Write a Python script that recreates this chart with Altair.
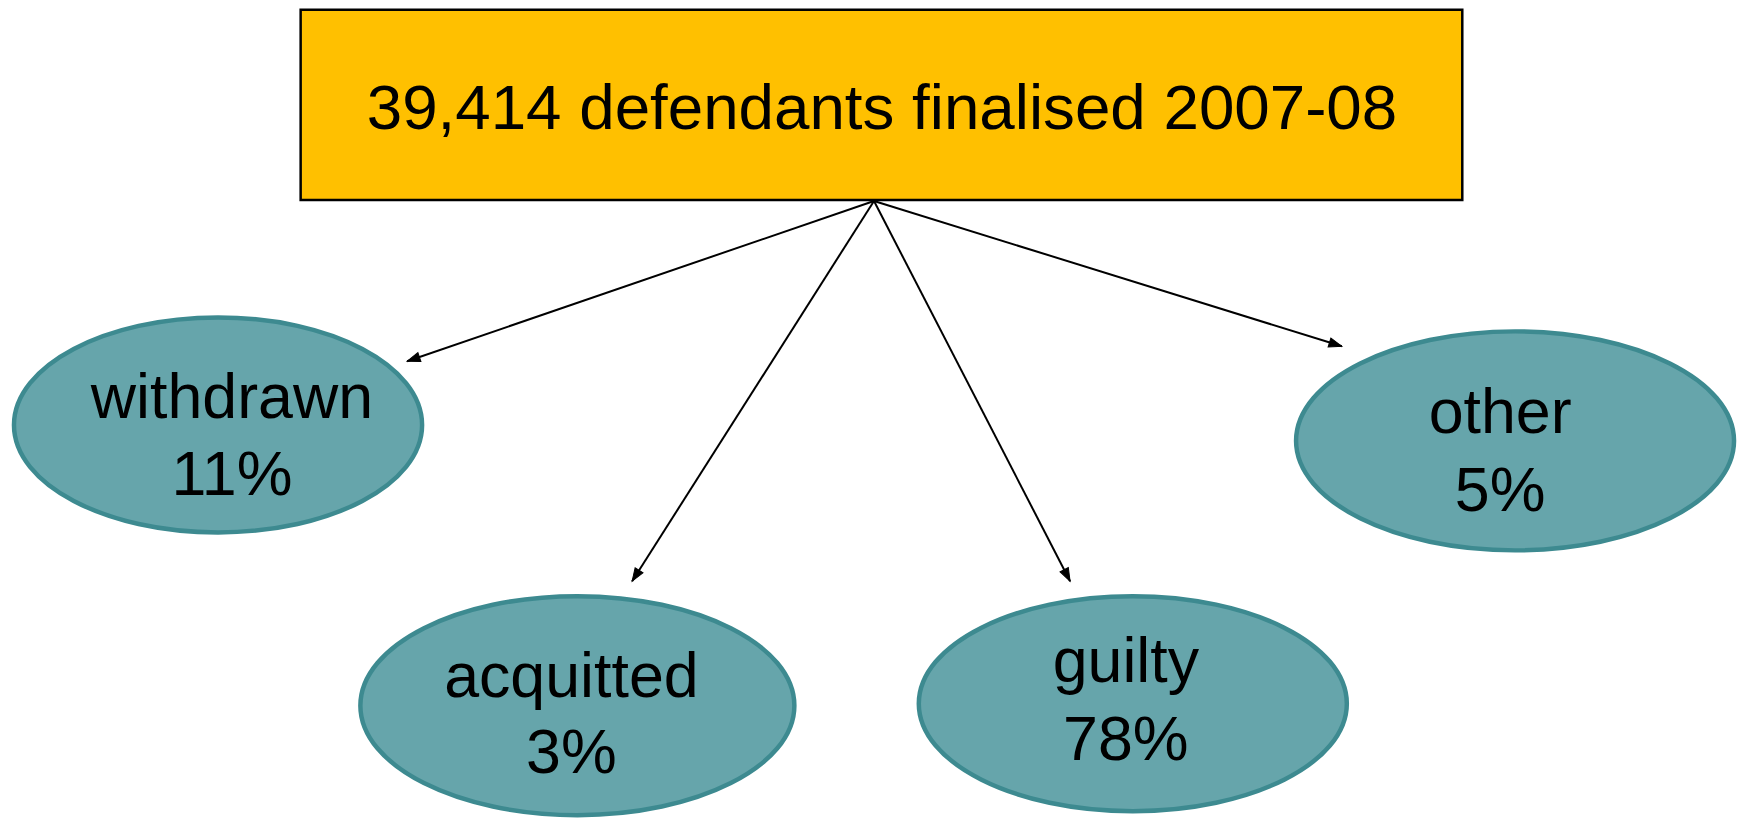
import math
import altair as alt
import pandas as pd

# ---- content ----
outcomes = ["withdrawn", "acquitted", "guilty", "other"]
shares = [11, 3, 78, 5]
total_defendants = "39,414"
period = "2007-08"

# ---- layout (page pixels) ----
box_x, box_x2, box_y, box_y2 = 302, 1469, 8, 199
origin_x, origin_y = 878, 200
ell_cx = [219, 580, 1138, 1522]
ell_cy = [425, 707, 705, 441]
ell_rx = [205, 218, 215, 220]
ell_ry = [108, 110, 108, 110]
tip_x = [409, 635, 1075, 1348]
tip_y = [361, 582, 582, 346]
label_x = [233, 574, 1131, 1507]
label_y1 = [418, 698, 683, 433]
label_y2 = [495, 775, 762, 511]

W, H = 1742, 810
xs = alt.Scale(domain=[8, 8 + W])
ys = alt.Scale(domain=[8, 8 + H], reverse=True)

FONT = "Liberation Sans"

# box
box_df = pd.DataFrame({"x": [box_x], "x2": [box_x2], "y": [box_y], "y2": [box_y2],
                       "t": [f"{total_defendants} defendants finalised {period}"],
                       "tx": [(box_x + box_x2) / 2 + 0.5], "ty": [128]})
box = alt.Chart(box_df).mark_rect(fill="#FFC000", stroke="#000000", strokeWidth=2.5).encode(
    x=alt.X("x:Q", scale=xs, axis=None), x2="x2:Q",
    y=alt.Y("y:Q", scale=ys, axis=None), y2="y2:Q")
box_text = alt.Chart(box_df).mark_text(font=FONT, fontSize=64, color="#000000",
                                       align="center", baseline="alphabetic").encode(
    x=alt.X("tx:Q", scale=xs, axis=None), y=alt.Y("ty:Q", scale=ys, axis=None), text="t:N")

# arrows
arr_rows = []
for i, o in enumerate(outcomes):
    dx = tip_x[i] - origin_x
    dy = tip_y[i] - origin_y
    ang = math.degrees(math.atan2(dx, -dy)) % 360
    arr_rows.append({"o": o, "x": origin_x, "y": origin_y, "x2": tip_x[i], "y2": tip_y[i],
                     "ang": ang})
arr_df = pd.DataFrame(arr_rows)
lines = alt.Chart(arr_df).mark_rule(color="#000000", strokeWidth=2).encode(
    x=alt.X("x:Q", scale=xs, axis=None), y=alt.Y("y:Q", scale=ys, axis=None),
    x2="x2:Q", y2="y2:Q")
heads = alt.Chart(arr_df).mark_point(
    shape="M0,0L-0.36,1L0.36,1Z", size=676, filled=True, fill="#000000",
    stroke="#000000", strokeWidth=1, opacity=1).encode(
    x=alt.X("x2:Q", scale=xs, axis=None), y=alt.Y("y2:Q", scale=ys, axis=None),
    angle=alt.Angle("ang:Q", scale=None))

# ellipses
ell_rows = []
for i, o in enumerate(outcomes):
    k = ell_ry[i] / ell_rx[i]
    ell_rows.append({"o": o, "x": ell_cx[i], "y": ell_cy[i],
                     "shape": f"M-1,0A1,{k:.4f},0,1,1,1,0A1,{k:.4f},0,1,1,-1,0Z",
                     "size": (2 * ell_rx[i]) ** 2})
ell_df = pd.DataFrame(ell_rows)
ells = alt.Chart(ell_df).mark_point(filled=True, fill="#66A5AB", stroke="#3D8A90",
                                    strokeWidth=4.5, opacity=1).encode(
    x=alt.X("x:Q", scale=xs, axis=None), y=alt.Y("y:Q", scale=ys, axis=None),
    shape=alt.Shape("shape:N", scale=None), size=alt.Size("size:Q", scale=None))

# labels
lab_rows = []
for i, o in enumerate(outcomes):
    lab_rows.append({"t": o, "x": label_x[i], "y": label_y1[i]})
    lab_rows.append({"t": f"{shares[i]}%", "x": label_x[i], "y": label_y2[i]})
lab_df = pd.DataFrame(lab_rows)
labels = alt.Chart(lab_df).mark_text(font=FONT, fontSize=63, color="#000000",
                                     align="center", baseline="alphabetic").encode(
    x=alt.X("x:Q", scale=xs, axis=None), y=alt.Y("y:Q", scale=ys, axis=None), text="t:N")

chart = alt.layer(lines, heads, box, box_text, ells, labels).properties(
    width=W, height=H, padding=0, autosize="none", background="#FFFFFF"
).configure_view(stroke=None)

chart.save("out.html", embed_options={"renderer": "svg", "actions": False})
